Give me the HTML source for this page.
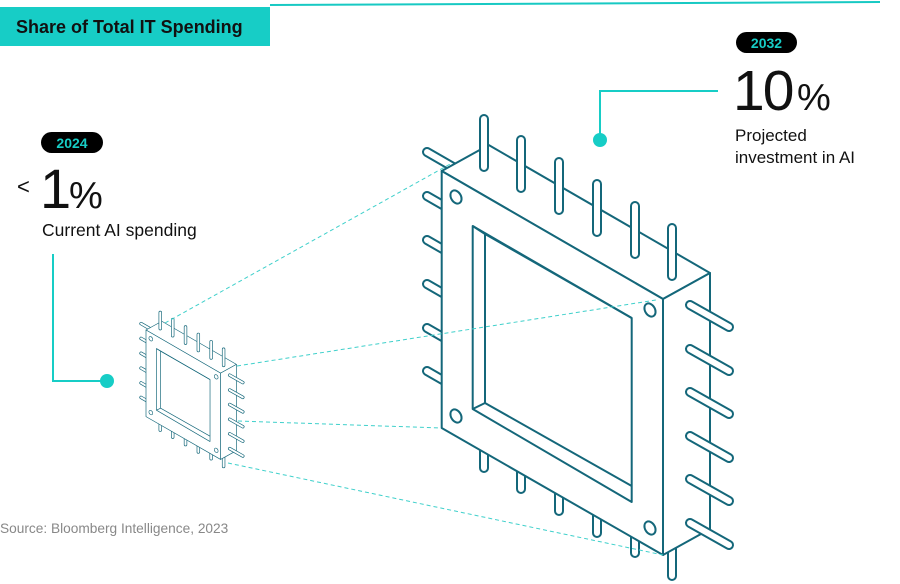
<!DOCTYPE html>
<html><head><meta charset="utf-8"><style>
body{margin:0;background:#fff;}
svg{display:block;font-family:"Liberation Sans",sans-serif;}
</style></head><body>
<svg width="900" height="584" viewBox="0 0 900 584" xmlns="http://www.w3.org/2000/svg">
<defs>
<g id="chip" fill="#fff" stroke="#14677a" stroke-width="2" stroke-linejoin="round">
  <g>
    <rect x="480" y="420" width="8" height="52" rx="4"/>
    <rect x="517" y="440" width="8" height="53" rx="4"/>
    <rect x="555" y="462" width="8" height="53" rx="4"/>
    <rect x="593" y="484" width="8" height="53" rx="4"/>
    <rect x="631" y="505" width="8" height="52" rx="4"/>
    <rect x="668" y="527" width="8" height="53" rx="4"/>
  </g>
  <g>
    <line x1="427" y1="152" x2="460" y2="171" stroke-width="10" stroke-linecap="round"/>
    <line x1="427" y1="196" x2="460" y2="215" stroke-width="10" stroke-linecap="round"/>
    <line x1="427" y1="240" x2="460" y2="259" stroke-width="10" stroke-linecap="round"/>
    <line x1="427" y1="284" x2="460" y2="303" stroke-width="10" stroke-linecap="round"/>
    <line x1="427" y1="328" x2="460" y2="347" stroke-width="10" stroke-linecap="round"/>
    <line x1="427" y1="371" x2="460" y2="390" stroke-width="10" stroke-linecap="round"/>
    <line x1="427" y1="152" x2="460" y2="171" stroke="#fff" stroke-width="6" stroke-linecap="round"/>
    <line x1="427" y1="196" x2="460" y2="215" stroke="#fff" stroke-width="6" stroke-linecap="round"/>
    <line x1="427" y1="240" x2="460" y2="259" stroke="#fff" stroke-width="6" stroke-linecap="round"/>
    <line x1="427" y1="284" x2="460" y2="303" stroke="#fff" stroke-width="6" stroke-linecap="round"/>
    <line x1="427" y1="328" x2="460" y2="347" stroke="#fff" stroke-width="6" stroke-linecap="round"/>
    <line x1="427" y1="371" x2="460" y2="390" stroke="#fff" stroke-width="6" stroke-linecap="round"/>
  </g>
  <polygon points="441.7,171 488.7,145 710,273 663,299"/>
  <polygon points="663,299 710,273 710,529 663,555"/>
  <polygon points="441.7,171 663,299 663,555 441.7,428"/>
  <polygon points="472.7,226 631.7,318 631.7,502 472.7,409" fill="none"/>
  <polyline points="631.7,486 485,403 485,234 631.7,318" fill="none"/>
  <line x1="472.7" y1="409" x2="485" y2="403"/>
  <line x1="472.7" y1="226" x2="485" y2="234"/>
  <ellipse cx="456" cy="197" rx="5" ry="7" transform="rotate(-30 456 197)"/>
  <ellipse cx="650" cy="310" rx="5" ry="7" transform="rotate(-30 650 310)"/>
  <ellipse cx="456" cy="416" rx="5" ry="7" transform="rotate(-30 456 416)"/>
  <ellipse cx="650" cy="528" rx="5" ry="7" transform="rotate(-30 650 528)"/>
  <rect x="480" y="115" width="8" height="56" rx="4"/>
  <rect x="517" y="136" width="8" height="56" rx="4"/>
  <rect x="555" y="158" width="8" height="56" rx="4"/>
  <rect x="593" y="180" width="8" height="56" rx="4"/>
  <rect x="631" y="202" width="8" height="56" rx="4"/>
  <rect x="668" y="224" width="8" height="56" rx="4"/>
  <g>
    <line x1="690" y1="305" x2="729" y2="327" stroke-width="10" stroke-linecap="round"/>
    <line x1="690" y1="349" x2="729" y2="371" stroke-width="10" stroke-linecap="round"/>
    <line x1="690" y1="392" x2="729" y2="414" stroke-width="10" stroke-linecap="round"/>
    <line x1="690" y1="436" x2="729" y2="458" stroke-width="10" stroke-linecap="round"/>
    <line x1="690" y1="479" x2="729" y2="501" stroke-width="10" stroke-linecap="round"/>
    <line x1="690" y1="523" x2="729" y2="545" stroke-width="10" stroke-linecap="round"/>
    <line x1="690" y1="305" x2="729" y2="327" stroke="#fff" stroke-width="6" stroke-linecap="round"/>
    <line x1="690" y1="349" x2="729" y2="371" stroke="#fff" stroke-width="6" stroke-linecap="round"/>
    <line x1="690" y1="392" x2="729" y2="414" stroke="#fff" stroke-width="6" stroke-linecap="round"/>
    <line x1="690" y1="436" x2="729" y2="458" stroke="#fff" stroke-width="6" stroke-linecap="round"/>
    <line x1="690" y1="479" x2="729" y2="501" stroke="#fff" stroke-width="6" stroke-linecap="round"/>
    <line x1="690" y1="523" x2="729" y2="545" stroke="#fff" stroke-width="6" stroke-linecap="round"/>
  </g>
</g>
</defs>

<line x1="270" y1="5" x2="880" y2="2" stroke="#17c9c3" stroke-width="2"/>
<rect x="0" y="7" width="270" height="39" fill="#17cdc6"/>
<text x="16" y="33" font-size="18" font-weight="bold" fill="#111">Share of Total IT Spending</text>

<use href="#chip"/>
<g transform="translate(146 330) scale(0.337) translate(-441.7 -171)">
  <use href="#chip"/>
</g>

<g stroke="#3fd0cb" stroke-width="1" stroke-dasharray="4,3" fill="none">
  <line x1="165" y1="323" x2="452" y2="163"/>
  <line x1="237" y1="366" x2="656" y2="300"/>
  <line x1="238" y1="421" x2="441" y2="428"/>
  <line x1="228" y1="463" x2="663" y2="555"/>
</g>

<rect x="41" y="132" width="62" height="21" rx="10.5" fill="#000"/>
<text x="72" y="148" font-size="14" font-weight="bold" fill="#17cdc6" text-anchor="middle">2024</text>
<text x="17" y="194" font-size="22" fill="#111">&lt;</text>
<text x="40" y="208" font-size="56" fill="#111">1</text>
<text x="69" y="208" font-size="38" fill="#111">%</text>
<text x="42" y="236" font-size="17.5" fill="#111">Current AI spending</text>
<polyline points="53,254 53,381 107,381" fill="none" stroke="#17cdc6" stroke-width="2"/>
<circle cx="107" cy="381" r="7" fill="#17cdc6"/>

<rect x="736" y="32" width="61" height="21" rx="10.5" fill="#000"/>
<text x="766.5" y="48" font-size="14" font-weight="bold" fill="#17cdc6" text-anchor="middle">2032</text>
<text x="733" y="110" font-size="57" fill="#111" letter-spacing="-2">10</text>
<text x="797" y="110" font-size="38" fill="#111">%</text>
<text x="735" y="141" font-size="17" fill="#111">Projected</text>
<text x="735" y="163" font-size="17" fill="#111">investment in AI</text>
<polyline points="718,91 600,91 600,140" fill="none" stroke="#17cdc6" stroke-width="2"/>
<circle cx="600" cy="140" r="7" fill="#17cdc6"/>

<text x="0" y="533" font-size="13.7" fill="#888">Source: Bloomberg Intelligence, 2023</text>
</svg>
</body></html>
